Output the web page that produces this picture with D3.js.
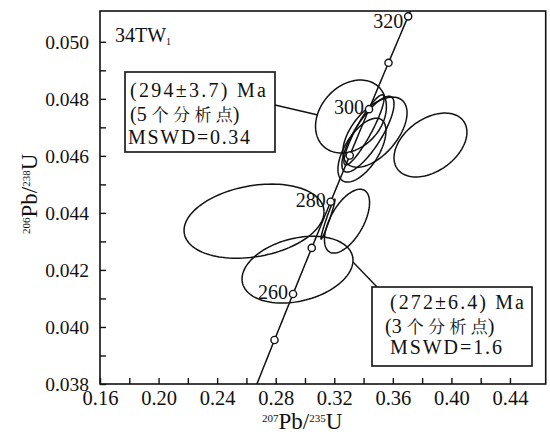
<!DOCTYPE html>
<html>
<head>
<meta charset="utf-8">
<script src="https://cdnjs.cloudflare.com/ajax/libs/d3/7.8.5/d3.min.js"></script>
<style>
  body { margin: 0; background: #fff; }
</style>
</head>
<body>
<div id="chart"></div>
<script>
// axis ticks
var xTicks = [0.16, 0.20, 0.24, 0.28, 0.32, 0.36, 0.40, 0.44];
var xMinorTicks = [0.18, 0.22, 0.26, 0.30, 0.34, 0.38, 0.42];
var yTicks = [0.038, 0.040, 0.042, 0.044, 0.046, 0.048, 0.050];
var yMinorTicks = [0.039, 0.041, 0.043, 0.045, 0.047, 0.049];

// concordia age marks (Ma) and which of them carry a label
var ageMarks = [250, 260, 270, 280, 290, 300, 310, 320];
var ageLabels = [260, 280, 300, 320];

// error ellipses: centre, half size and correlation (rho)
var ellX   = [0.3314, 0.3857, 0.3478, 0.3430, 0.3389, 0.3403, 0.2652, 0.2949, 0.3287, 0.3157];
var ellSx  = [0.0242, 0.0249, 0.0219, 0.0178, 0.0164, 0.0137, 0.0478, 0.0379, 0.0154, 0.0048];
var ellY   = [0.04738, 0.04638, 0.04683, 0.04676, 0.04620, 0.04691, 0.04371, 0.04201, 0.04371, 0.04378];
var ellSy  = [0.00128, 0.00112, 0.00123, 0.00133, 0.00112, 0.00123, 0.00130, 0.00117, 0.00112, 0.00070];
var ellRho = [0.27, 0.40, 0.55, 0.80, 0.60, 0.90, 0.25, 0.28, 0.58, 0.97];

// annotation texts
var sampleName = "34TW";
var box1Lines = ["(294\u00b13.7) Ma", "(5 \u4e2a \u5206 \u6790 \u70b9)", "MSWD=0.34"];
var box2Lines = ["(272\u00b16.4) Ma", "(3 \u4e2a \u5206 \u6790 \u70b9)", "MSWD=1.6"];

// decay constants (1/yr)
var L238 = 1.55125e-10;
var L235 = 9.8485e-10;

var width = 550, height = 438;
var plotLeft = 100, plotRight = 545.7, plotTop = 11, plotBottom = 384;
var FONT = "Liberation Serif";
var CJK_FONT = "Noto Serif CJK SC";

var svg = d3.select("#chart").append("svg")
    .attr("width", width)
    .attr("height", height)
    .attr("font-family", FONT);

var x = d3.scaleLinear().domain([0.16, 0.4644]).range([plotLeft, plotRight]);
var y = d3.scaleLinear().domain([0.038, 0.05108]).range([plotBottom, plotTop]);

function concordia(t) {
    return [Math.exp(L235 * t * 1e6) - 1, Math.exp(L238 * t * 1e6) - 1];
}

// set font on a text selection
function font(sel, size) {
    return sel.attr("font-family", FONT).attr("font-size", size).attr("fill", "#111");
}

svg.append("clipPath").attr("id", "plot")
    .append("rect")
    .attr("x", plotLeft).attr("y", plotTop)
    .attr("width", plotRight - plotLeft).attr("height", plotBottom - plotTop);

// axes, ticks pointing inside
var fmtX = d3.format(".2f"), fmtY = d3.format(".3f");
var xAxis = d3.axisBottom(x)
    .tickValues(xTicks.concat(xMinorTicks))
    .tickSize(-6)
    .tickPadding(6.5)
    .tickFormat(function(d) { return xTicks.indexOf(d) >= 0 ? fmtX(d) : ""; });
var yAxis = d3.axisLeft(y)
    .tickValues(yTicks.concat(yMinorTicks))
    .tickSize(-6)
    .tickPadding(11)
    .tickFormat(function(d) { return yTicks.indexOf(d) >= 0 ? fmtY(d) : ""; });

var gx = svg.append("g").attr("transform", "translate(0," + plotBottom + ")").call(xAxis);
var gy = svg.append("g").attr("transform", "translate(" + plotLeft + ",0)").call(yAxis);
font(gx, 20.5);
font(gy, 19.5);
font(gx.selectAll("text"), 20.5);
font(gy.selectAll("text"), 19.5).attr("dy", "0.32em");
svg.selectAll(".domain").remove();
svg.selectAll(".tick line").attr("stroke", "#111").attr("stroke-width", 1.4);

// frame
svg.append("rect")
    .attr("x", plotLeft).attr("y", plotTop)
    .attr("width", plotRight - plotLeft).attr("height", plotBottom - plotTop)
    .attr("fill", "none").attr("stroke", "#111").attr("stroke-width", 1.6);

// axis titles
var xt = font(svg.append("text").attr("x", 262).attr("y", 429), 23);
xt.append("tspan").text("207").attr("font-size", 11).attr("dy", -7);
xt.append("tspan").text("Pb/").attr("dy", 7);
xt.append("tspan").text("235").attr("font-size", 11).attr("dy", -7);
xt.append("tspan").text("U").attr("dy", 7);

var yt = font(svg.append("text").attr("transform", "translate(37,234)rotate(-90)"), 23);
yt.append("tspan").text("206").attr("font-size", 11).attr("dy", -7);
yt.append("tspan").text("Pb/").attr("dy", 7);
yt.append("tspan").text("238").attr("font-size", 11).attr("dy", -7);
yt.append("tspan").text("U").attr("dy", 7);

// sample name
var st = font(svg.append("text").attr("x", 115).attr("y", 42), 20);
st.append("tspan").text(sampleName);
st.append("tspan").text("1").attr("font-size", 10).attr("dy", 3);

var plot = svg.append("g").attr("clip-path", "url(#plot)");

// error ellipses
var ellLine = d3.line().x(function(d) { return x(d[0]); }).y(function(d) { return y(d[1]); });
var ellipses = ellX.map(function(cx, i) {
    var pts = [];
    for (var k = 0; k <= 120; k++) {
        var a = k / 120 * 2 * Math.PI;
        pts.push([cx + ellSx[i] * Math.cos(a),
                  ellY[i] + ellSy[i] * (ellRho[i] * Math.cos(a) + Math.sqrt(1 - ellRho[i] * ellRho[i]) * Math.sin(a))]);
    }
    return pts;
});
plot.selectAll(".ell").data(ellipses).enter().append("path")
    .attr("class", "ell")
    .attr("d", ellLine)
    .attr("fill", "none").attr("stroke", "#111").attr("stroke-width", 1.5);

// concordia curve
var curve = d3.range(235, 326, 1).map(concordia);
plot.append("path")
    .attr("d", ellLine(curve))
    .attr("fill", "none").attr("stroke", "#111").attr("stroke-width", 1.5);

plot.selectAll(".age").data(ageMarks).enter().append("circle")
    .attr("class", "age")
    .attr("cx", function(d) { return x(concordia(d)[0]); })
    .attr("cy", function(d) { return y(concordia(d)[1]); })
    .attr("r", 3.6)
    .attr("fill", "#fff").attr("stroke", "#111").attr("stroke-width", 1.4);

font(svg.selectAll(".agelab").data(ageLabels).enter().append("text"), 20)
    .attr("class", "agelab")
    .attr("text-anchor", "end")
    .attr("x", function(d) { return x(concordia(d)[0]) - 5; })
    .attr("y", function(d) { return y(concordia(d)[1]) + (d === 320 ? 12 : 5); })
    .text(function(d) { return d; });

// annotation boxes with leader lines; chinese chars get their own font
function drawBox(x0, y0, w, h, lines, tx, ty, lens, lead) {
    svg.append("line")
        .attr("x1", lead[0]).attr("y1", lead[1]).attr("x2", lead[2]).attr("y2", lead[3])
        .attr("stroke", "#111").attr("stroke-width", 1.4);
    svg.append("rect")
        .attr("x", x0).attr("y", y0).attr("width", w).attr("height", h)
        .attr("fill", "#fff").attr("stroke", "#111").attr("stroke-width", 1.6);
    lines.forEach(function(s, i) {
        var t = font(svg.append("text"), 20)
            .attr("x", tx[i]).attr("y", ty[i]);
        if (i !== 1) t.attr("textLength", lens[i]).attr("lengthAdjust", "spacing");
        s.split(/([\u4e00-\u9fff]+(?: [\u4e00-\u9fff]+)*)/).forEach(function(part) {
            if (!part) return;
            var sp = t.append("tspan").text(part);
            if (/[\u4e00-\u9fff]/.test(part)) sp.attr("font-family", CJK_FONT).attr("font-size", 17);
        });
    });
}
drawBox(125, 72, 150, 80, box1Lines, [130, 130, 128], [97, 121, 144], [136, 0, 122], [275, 105, 318, 115]);
drawBox(372, 287, 160, 79, box2Lines, [390, 385, 390], [309, 333, 354], [134, 0, 112], [353, 262, 377, 287]);
</script>
</body>
</html>
